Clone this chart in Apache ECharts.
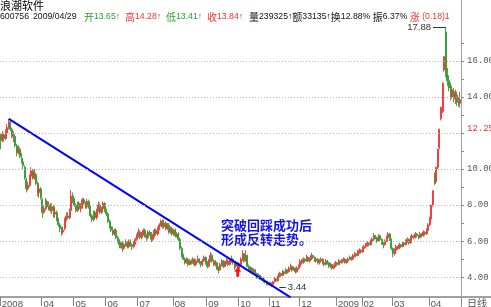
<!DOCTYPE html>
<html><head><meta charset="utf-8">
<script src="https://cdn.jsdelivr.net/npm/echarts@6/dist/echarts.min.js"></script>
<style>html,body{margin:0;padding:0;background:#fff;overflow:hidden}#c{width:491px;height:307px}</style>
</head><body><div id="c"></div>
<script>
// month labels and number of trading days shown for each month
const months = [['2008',26],['04',20],['05',20],['06',20],['07',22],['08',21],['09',20],['10',19],['11',19],['12',23],['2009',16],['02',19],['03',23],['04',20]];
// daily candles: [open, close, low, high]
const candles = [
[11.9,11.6,11.1,12.0],[11.6,11.9,11.5,12.1],[11.9,11.7,11.5,12.0],[11.7,12.0,11.6,12.2],[12.0,12.3,11.9,12.5],
[12.3,12.6,12.2,12.78],[12.6,12.2,12.1,12.7],[12.2,11.8,11.7,12.3],[11.7,11.9,11.5,12.1],[11.8,11.3,11.2,11.9],
[11.3,10.9,10.7,11.4],[10.9,11.1,10.8,11.3],[11.1,10.7,10.6,11.2],[10.6,10.5,10.3,10.9],[10.4,10.2,10.0,10.6],
[10.1,9.5,9.4,10.2],[9.4,8.9,8.7,9.5],[8.9,9.1,8.8,9.3],[9.1,9.6,9.0,9.7],[9.6,9.9,9.4,10.1],
[9.9,9.5,9.4,10.0],[9.5,9.8,9.4,10.0],[9.7,9.2,9.1,9.8],[9.2,8.7,8.5,9.3],[8.7,8.9,8.4,9.2],
[8.9,8.4,8.3,9.0],[8.3,7.6,7.3,8.4],[7.6,7.8,7.5,8.0],[7.8,8.2,7.7,8.4],[8.2,7.9,7.8,8.3],
[7.9,8.0,7.7,8.2],[8.0,7.7,7.6,8.1],[7.7,7.9,7.5,8.1],[7.9,7.5,7.3,8.0],[7.5,7.6,7.3,7.8],
[7.6,7.2,7.1,7.7],[7.2,6.9,6.8,7.3],[6.9,6.7,6.5,7.0],[6.7,6.5,6.3,6.8],[6.5,6.6,6.4,6.8],
[6.7,7.2,6.6,7.3],[7.2,7.4,7.1,7.6],[7.4,7.3,7.2,7.6],[7.3,7.6,7.2,7.8],[7.7,8.5,7.6,8.85],
[8.5,8.3,8.1,8.7],[8.3,8.0,7.9,8.4],[8.0,7.7,7.6,8.1],[7.7,8.1,7.6,8.2],[8.1,7.8,7.7,8.2],
[7.8,7.9,7.6,8.1],[7.9,8.3,7.8,8.4],[8.3,8.1,8.0,8.4],[8.1,7.9,7.8,8.2],[7.9,8.2,7.8,8.35],
[8.2,7.9,7.8,8.3],[7.9,7.4,7.3,8.0],[7.4,7.2,7.05,7.5],[7.2,7.6,7.1,7.7],[7.6,7.3,7.2,7.7],
[7.3,7.7,7.2,7.8],[7.7,8.0,7.6,8.2],[8.0,7.6,7.5,8.1],[7.6,7.8,7.5,7.9],[7.8,8.1,7.7,8.2],
[8.1,7.7,7.6,8.15],[7.7,7.5,7.4,7.8],[7.5,7.1,7.0,7.6],[7.1,6.8,6.7,7.2],[6.8,6.6,6.5,6.9],
[6.6,6.4,6.3,6.8],[6.4,6.6,6.3,6.7],[6.6,6.2,6.1,6.7],[6.2,6.0,5.9,6.3],[6.0,5.8,5.6,6.1],
[5.8,5.9,5.6,6.0],[5.9,5.6,5.4,6.0],[5.6,5.8,5.5,5.9],[5.8,5.9,5.7,6.1],[5.9,5.7,5.6,6.0],
[5.7,6.0,5.6,6.1],[6.0,5.8,5.7,6.1],[5.8,5.7,5.5,5.9],[5.7,5.9,5.6,6.0],[5.9,6.1,5.8,6.2],
[6.1,6.3,6.0,6.4],[6.3,6.5,6.2,6.7],[6.5,6.2,6.1,6.6],[6.2,6.4,6.1,6.5],[6.4,6.6,6.3,6.7],
[6.6,6.3,6.2,6.7],[6.3,6.2,6.0,6.4],[6.2,6.5,6.1,6.6],[6.5,6.4,6.3,6.6],[6.4,6.1,5.95,6.5],
[6.1,6.3,6.0,6.4],[6.3,6.6,6.2,6.7],[6.6,6.4,6.3,6.7],[6.4,6.7,6.3,6.8],[6.7,6.9,6.6,7.0],
[6.9,7.1,6.8,7.2],[7.1,6.8,6.7,7.2],[6.8,7.0,6.7,7.2],[7.0,6.7,6.6,7.1],[6.7,6.9,6.6,7.0],
[6.9,6.5,6.4,7.0],[6.5,6.7,6.4,6.8],[6.7,6.4,6.3,6.8],[6.4,6.6,6.3,6.7],[6.6,6.3,6.2,6.7],
[6.3,6.4,6.2,6.5],[6.4,6.1,6.0,6.5],[6.1,5.6,5.5,6.2],[5.6,5.2,5.1,5.7],[5.2,5.0,4.95,5.3],
[5.0,4.8,4.7,5.1],[4.8,5.0,4.75,5.1],[5.0,4.7,4.6,5.05],[4.7,4.9,4.65,5.0],[4.9,4.8,4.7,5.0],
[4.8,5.0,4.75,5.1],[5.0,4.7,4.6,5.05],[4.7,4.9,4.6,5.0],[4.9,5.0,4.8,5.2],[5.0,4.8,4.7,5.05],
[4.8,4.7,4.55,4.9],[4.7,4.9,4.6,5.0],[4.9,5.1,4.85,5.2],[5.1,4.8,4.7,5.15],[4.8,4.6,4.5,4.9],
[4.6,4.9,4.55,5.0],[4.9,5.2,4.85,5.4],[5.2,4.9,4.8,5.3],[4.9,4.7,4.6,5.0],[4.7,4.8,4.6,4.95],
[4.8,4.5,4.4,4.85],[4.5,4.4,4.2,4.6],[4.4,4.7,4.35,4.8],[4.7,4.9,4.6,5.0],[4.9,4.6,4.5,4.95],
[4.6,4.8,4.55,4.9],[4.8,4.9,4.7,5.05],[4.9,4.7,4.6,5.0],[4.7,4.9,4.65,5.0],[4.9,5.0,4.8,5.2],
[5.0,4.8,4.7,5.05],[4.8,4.6,4.4,4.9],[4.6,4.8,4.5,4.9],[4.8,4.5,4.4,4.85],[4.5,4.7,4.45,4.8],
[4.7,5.0,4.65,5.1],[5.0,5.3,4.9,5.5],[5.3,4.9,4.8,5.35],[4.9,5.2,4.85,5.5],[5.2,4.6,4.55,5.25],
[4.6,4.4,4.3,4.7],[4.4,4.5,4.3,4.6],[4.5,4.3,4.2,4.55],[4.3,4.4,4.2,4.5],[4.4,4.2,4.1,4.45],
[4.2,4.0,3.9,4.25],[4.0,4.1,3.9,4.2],[4.1,3.9,3.85,4.15],[3.9,3.95,3.8,4.05],[3.95,3.8,3.7,4.0],
[3.8,3.75,3.65,3.9],[3.75,3.6,3.55,3.8],[3.6,3.7,3.55,3.8],[3.7,3.55,3.5,3.75],[3.55,3.6,3.44,3.7],
[3.6,3.75,3.55,3.8],[3.75,3.9,3.7,4.0],[3.9,3.8,3.75,3.95],[3.8,4.0,3.75,4.1],[4.0,4.2,3.95,4.3],
[4.2,4.1,4.0,4.25],[4.1,4.3,4.05,4.4],[4.3,4.2,4.1,4.35],[4.2,4.4,4.15,4.5],[4.4,4.3,4.2,4.45],
[4.3,4.5,4.25,4.6],[4.5,4.6,4.4,4.75],[4.6,4.4,4.3,4.65],[4.4,4.5,4.35,4.6],[4.5,4.3,4.2,4.55],
[4.3,4.5,4.25,4.6],[4.5,4.6,4.4,4.7],[4.6,4.9,4.55,5.0],[4.9,4.8,4.7,5.0],[4.8,5.0,4.75,5.1],
[5.0,4.9,4.8,5.05],[4.9,5.1,4.85,5.25],[5.1,4.9,4.85,5.15],[4.9,5.0,4.8,5.1],[5.0,5.2,4.95,5.35],
[5.2,5.1,5.0,5.25],[5.1,4.9,4.85,5.15],[4.9,5.0,4.8,5.1],[5.0,4.8,4.7,5.05],[4.8,4.9,4.7,5.0],
[4.9,5.0,4.8,5.1],[5.0,4.8,4.7,5.05],[4.8,4.7,4.6,4.85],[4.7,4.9,4.65,5.0],[4.9,4.8,4.7,4.95],
[4.8,4.6,4.5,4.85],[4.6,4.7,4.5,4.8],[4.7,4.5,4.4,4.75],[4.5,4.6,4.45,4.7],[4.6,4.8,4.55,4.9],
[4.8,4.7,4.6,4.85],[4.7,4.9,4.65,5.0],[4.9,4.8,4.7,4.95],[4.8,4.9,4.75,5.0],[4.9,5.0,4.85,5.1],
[5.0,4.8,4.75,5.05],[4.8,4.9,4.75,5.0],[4.9,5.0,4.85,5.1],[5.0,5.1,4.95,5.2],[5.1,5.0,4.9,5.15],
[5.0,5.2,4.95,5.3],[5.2,5.3,5.1,5.4],[5.3,5.2,5.1,5.35],[5.2,5.4,5.15,5.5],[5.4,5.5,5.3,5.6],
[5.5,5.4,5.3,5.55],[5.4,5.6,5.35,5.7],[5.6,5.7,5.5,5.8],[5.7,5.8,5.6,5.9],[5.8,5.9,5.7,6.0],
[5.9,5.8,5.7,5.95],[5.8,6.0,5.75,6.1],[6.0,6.1,5.9,6.2],[6.1,6.3,6.0,6.45],[6.3,6.2,6.1,6.35],
[6.2,6.0,5.9,6.25],[6.0,6.3,5.95,6.4],[6.3,6.1,6.0,6.35],[6.1,5.9,5.8,6.15],[5.9,5.8,5.6,5.95],
[5.8,6.0,5.75,6.1],[6.0,6.2,5.95,6.3],[6.2,6.4,6.1,6.5],[6.4,6.1,6.0,6.45],[6.1,5.6,5.5,6.15],
[5.6,5.3,5.1,5.65],[5.3,5.5,5.2,5.6],[5.5,5.7,5.4,5.8],[5.7,5.6,5.5,5.75],[5.6,5.8,5.55,5.9],
[5.8,5.7,5.6,5.85],[5.7,5.9,5.65,6.0],[5.9,5.8,5.7,5.95],[5.8,6.0,5.75,6.1],[6.0,6.1,5.9,6.2],
[6.1,5.9,5.8,6.15],[5.9,6.2,5.85,6.3],[6.2,6.3,6.1,6.4],[6.3,6.2,6.1,6.35],[6.2,6.4,6.15,6.5],
[6.4,6.3,6.2,6.45],[6.3,6.2,6.1,6.35],[6.2,6.4,6.15,6.5],[6.4,6.3,6.2,6.45],[6.3,6.5,6.25,6.6],
[6.5,6.4,6.3,6.55],[6.4,6.6,6.35,6.7],[6.6,6.9,6.5,7.0],[6.9,7.3,6.85,7.35],[7.3,8.0,7.2,8.0],
[8.0,8.8,7.9,8.8],[9.7,9.2,9.1,9.8],[9.3,10.1,9.2,10.12],[10.1,11.1,10.0,11.13],[11.2,12.2,11.1,12.24],
[12.8,13.42,12.7,13.46],[13.2,14.76,13.1,14.8],[15.5,16.24,15.4,16.24],[17.6,15.3,15.1,17.88],[15.3,14.9,14.6,15.6],
[14.9,14.5,14.3,15.2],[14.6,14.0,13.8,14.8],[14.0,14.4,13.9,14.6],[14.3,13.9,13.7,14.5],[13.9,14.2,13.6,14.4],
[14.1,13.7,13.5,14.3],[13.7,13.66,13.45,14.0],[13.65,13.84,13.41,14.28]
];
// breakout trend line: [candle index, price]
const trendLine = [[5, 12.78], [181, 2.88]];
const yGridValues = [4, 6, 8, 10, 12, 14, 16];
const yLabelValues = [4, 6, 8, 10, 12.25, 14, 16];
const yTickValues = [4,5,6,7,8,9,10,11,12,13,14,15,16,17];
const highMark = {from: 270, to: 278, value: 17.88};
const lowMark = {from: 174, to: 178, value: 3.44};
const arrowMark = {index: 148, value: 4.3};
const note = '突破回踩成功后\n形成反转走势。';

const categories = [];
months.forEach(([lab, n]) => { for (let j = 0; j < n; j++) categories.push(j === 0 ? lab : lab + '#' + j); });
const isMonthStart = (i, v) => String(v).indexOf('#') < 0;

const RED = '#f03434', GREEN = '#2e9c2e', INK = '#111';
const numFont = 'Liberation Sans', cjkFont = 'Noto Sans CJK SC';
const rich = {
  c: {fontFamily: cjkFont, fontSize: 10},
  n: {fontFamily: numFont, fontSize: 8.7},
  r: {fontFamily: numFont, fontSize: 8.7, fill: RED},
  k: {fontFamily: numFont, fontSize: 8.7, fill: INK},
  rc: {fontFamily: cjkFont, fontSize: 10, fill: RED},
  kc: {fontFamily: cjkFont, fontSize: 10, fill: INK}
};
function hdr(x, text, fill) {
  return {type: 'text', left: x, top: 12, silent: true,
    style: {text: text, fill: fill, rich: rich, font: '8.7px ' + numFont}};
}
const header = [
  hdr(0, '{n|600756}', INK),
  hdr(33, '{n|2009/04/29}', INK),
  hdr(84, '{c|开}{n|13.65↑}', GREEN),
  hdr(125, '{c|高}{n|14.28↑}', RED),
  hdr(166, '{c|低}{n|13.41↑}', GREEN),
  hdr(207, '{c|收}{n|13.84↑}', RED),
  hdr(249, '{kc|量}{k|239325↑}{kc|额}{k|33135↑}{kc|换}{k|12.88% }{kc|振}{k|6.37% }{rc|涨}{r| (0.18)1}', INK)
];

const chart = echarts.init(document.getElementById('c'), null, {renderer: 'canvas'});
chart.setOption({
  animation: false,
  backgroundColor: '#fff',
  grid: {left: 0, right: 30, top: 14, bottom: 10, containLabel: false, outerBoundsMode: 'none'},
  xAxis: {
    type: 'category', data: categories, boundaryGap: true,
    axisLine: {lineStyle: {color: '#a0a0a0', width: 2}},
    axisTick: {show: true, interval: isMonthStart, length: 9, lineStyle: {color: '#888'}},
    axisLabel: {interval: isMonthStart, formatter: v => v.indexOf('#') < 0 ? v : '', hideOverlap: false,
      align: 'left', margin: 2, padding: [0,0,0,1], fontSize: 9.5, fontFamily: numFont, color: '#555'},
    splitLine: {show: false}
  },
  yAxis: {
    type: 'value', position: 'right', min: 2.9, max: 18.6, scale: true,
    axisLine: {show: false},
    splitLine: {show: false},
    axisTick: {show: true, customValues: yTickValues, length: 3, lineStyle: {color: '#888'}},
    axisLabel: {customValues: yLabelValues, margin: 6, fontSize: 9, fontFamily: 'Liberation Mono', color: '#555',
      formatter: v => v === 12.25 ? '{r|12.25}' : v.toFixed(2),
      rich: {r: {color: '#f03030', fontSize: 9, fontFamily: 'Liberation Mono'}}}
  },
  series: [
    {
      type: 'line', data: [], z: 1, silent: true,
      markLine: {silent: true, symbol: ['none','none'], label: {show: false},
        lineStyle: {color: '#b4b4b4', type: [1, 2], width: 1},
        data: yGridValues.map(v => ({yAxis: v}))}
    },
    {
      type: 'candlestick', data: candles.map(c => [c[0], c[1], c[2], c[3]]), z: 3,
      barWidth: 1.5,
      itemStyle: {color: RED, color0: GREEN, borderColor: RED, borderColor0: GREEN, borderWidth: 0.9},
      markLine: {silent: true, symbol: ['none','none'], animation: false,
        lineStyle: {color: '#333', width: 1, type: 'solid'},
        data: [
          [{coord: [highMark.from, highMark.value], label: {show: true, position: 'start', formatter: highMark.value.toFixed(2), color: '#333', fontSize: 9.5, fontFamily: numFont, distance: 2}},
           {coord: [highMark.to, highMark.value]}],
          [{coord: [lowMark.from, lowMark.value], label: {show: true, position: 'end', formatter: lowMark.value.toFixed(2), color: '#333', fontSize: 9.5, fontFamily: numFont, distance: 2}},
           {coord: [lowMark.to, lowMark.value]}]
        ]},
      markPoint: {silent: true, animation: false,
        data: [{coord: [arrowMark.index, arrowMark.value],
          symbol: 'path://M5,0 L10,5 L7,5 L7,10 L3,10 L3,5 L0,5 Z', symbolSize: [7, 10],
          itemStyle: {color: '#ff1010'}, label: {show: false}}]}
    },
    {
      type: 'line', data: trendLine, z: 4, symbol: 'none', silent: true,
      lineStyle: {color: '#0000ff', width: 2}
    }
  ],
  graphic: [
    {type: 'text', left: 0, top: 0, silent: true, style: {text: '浪潮软件', font: '11px "Noto Sans CJK SC"', fill: '#000'}},
    ...header,
    {type: 'line', silent: true, shape: {x1: 461.5, y1: 0, x2: 461.5, y2: 307}, style: {stroke: '#a0a0a0', lineWidth: 1}},
    {type: 'line', silent: true, shape: {x1: 461, y1: 297, x2: 491, y2: 297}, style: {stroke: '#a0a0a0', lineWidth: 2}},
    {type: 'text', left: 467, top: 298, silent: true, style: {text: '日线', font: '10px "Noto Sans CJK SC"', fill: '#555'}},
    {type: 'text', left: 221, top: 218, silent: true, style: {text: note, font: 'bold 13px "Noto Sans CJK SC"', fill: '#1414e6', lineHeight: 14}}
  ]
});
</script>
</body></html>
